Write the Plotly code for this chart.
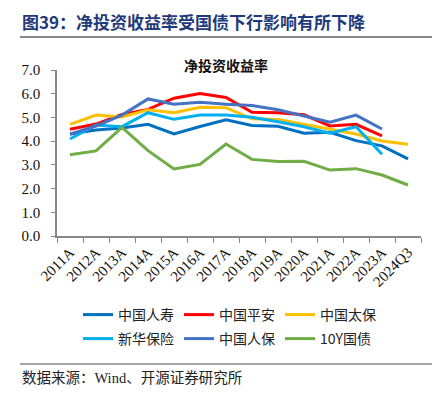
import plotly.graph_objects as go

categories = ["2011A","2012A","2013A","2014A","2015A","2016A","2017A","2018A","2019A","2020A","2021A","2022A","2023A","2024Q3"]
china_life = [4.30,4.47,4.55,4.71,4.30,4.62,4.90,4.66,4.63,4.33,4.37,4.02,3.80,3.25]
ping_an    = [4.50,4.72,5.13,5.34,5.81,6.01,5.84,5.22,5.20,5.11,4.64,4.71,4.22,None]
cpic       = [4.71,5.10,5.02,5.32,5.20,5.43,5.41,4.94,4.91,4.71,4.51,4.30,4.01,3.87]
nci        = [4.09,4.68,4.61,5.20,4.92,5.10,5.10,5.01,4.82,4.61,4.33,4.61,3.45,None]
picc       = [4.29,4.64,5.10,5.78,5.56,5.64,5.56,5.50,5.32,5.06,4.80,5.10,4.51,None]
cgb10y     = [3.43,3.59,4.58,3.60,2.83,3.02,3.88,3.23,3.14,3.15,2.78,2.84,2.57,2.15]

series = [
    ("中国人寿", china_life, "#0070C0", "legend"),
    ("中国平安", ping_an, "#FF0000", "legend"),
    ("中国太保", cpic, "#FFC000", "legend"),
    ("新华保险", nci, "#00B0F0", "legend2"),
    ("中国人保", picc, "#4472C4", "legend2"),
    ("10Y国债", cgb10y, "#70AD47", "legend2"),
]

fig = go.Figure()
for name, vals, col, lg in series:
    fig.add_trace(go.Scatter(x=categories, y=vals, name=name, mode="lines", legend=lg,
                             line=dict(color=col, width=3), connectgaps=False))

W, PL, PT, PB = 364, 57, 70, 236
PH = PB - PT
def px(x):
    return (x - PL) / W
def py(y):
    return (PB - y) / PH

serif = "Liberation Serif, Noto Sans CJK SC"
legfont = dict(family="Noto Sans CJK SC", size=14, color="#222")
fig.update_layout(
    width=442, height=396,
    margin=dict(l=57, r=21, t=70, b=160),
    paper_bgcolor="white", plot_bgcolor="white",
    showlegend=True,
    legend=dict(orientation="h", x=px(78), xanchor="left", y=py(315), yanchor="middle",
                entrywidth=56, entrywidthmode="pixels", font=legfont, itemwidth=30,
                bgcolor="rgba(0,0,0,0)"),
    legend2=dict(orientation="h", x=px(78), xanchor="left", y=py(339), yanchor="middle",
                 entrywidth=56, entrywidthmode="pixels", font=legfont, itemwidth=30,
                 bgcolor="rgba(0,0,0,0)"),
    font=dict(family=serif, color="#111"),
)
fig.update_xaxes(type="category", range=[-0.5, 13.5], tickangle=-45,
                 showline=True, linecolor="#888", linewidth=1.5,
                 ticks="outside", ticklen=5, tickcolor="#888", tickson="boundaries",
                 tickfont=dict(family=serif, size=15, color="#111"), showgrid=False)
fig.update_yaxes(range=[0, 7], dtick=1, tickformat=".1f",
                 showline=True, linecolor="#888", linewidth=1.5,
                 ticks="outside", ticklen=4, tickcolor="#888",
                 tickfont=dict(family=serif, size=15, color="#111"),
                 showgrid=False, zeroline=False, ticklabelstandoff=8)

# header
fig.add_annotation(text="<b>图39：净投资收益率受国债下行影响有所下降</b>", xref="paper", yref="paper",
                   x=px(20), y=py(22), xanchor="left", yanchor="middle", showarrow=False,
                   font=dict(family="Noto Sans CJK SC", size=17, color="#1F3A7A"))
fig.add_shape(type="line", xref="paper", yref="paper", x0=px(20), x1=px(432),
              y0=py(37), y1=py(37), line=dict(color="#888", width=2))
fig.add_annotation(text="<b>净投资收益率</b>", xref="paper", yref="paper",
                   x=px(226), y=py(65), xanchor="center", yanchor="middle", showarrow=False,
                   font=dict(family="Noto Sans CJK SC", size=14, color="#111"))
# footer
fig.add_shape(type="line", xref="paper", yref="paper", x0=px(20), x1=px(432),
              y0=py(364), y1=py(364), line=dict(color="#888", width=1.5))
fig.add_annotation(text="数据来源：Wind、开源证券研究所", xref="paper", yref="paper",
                   x=px(20), y=py(378), xanchor="left", yanchor="middle", showarrow=False,
                   font=dict(family="Liberation Serif, Noto Sans CJK SC", size=14.5, color="#222"))

fig.write_html("out.html", config={"displayModeBar": False},
               post_script="document.body.style.margin='0px';")
